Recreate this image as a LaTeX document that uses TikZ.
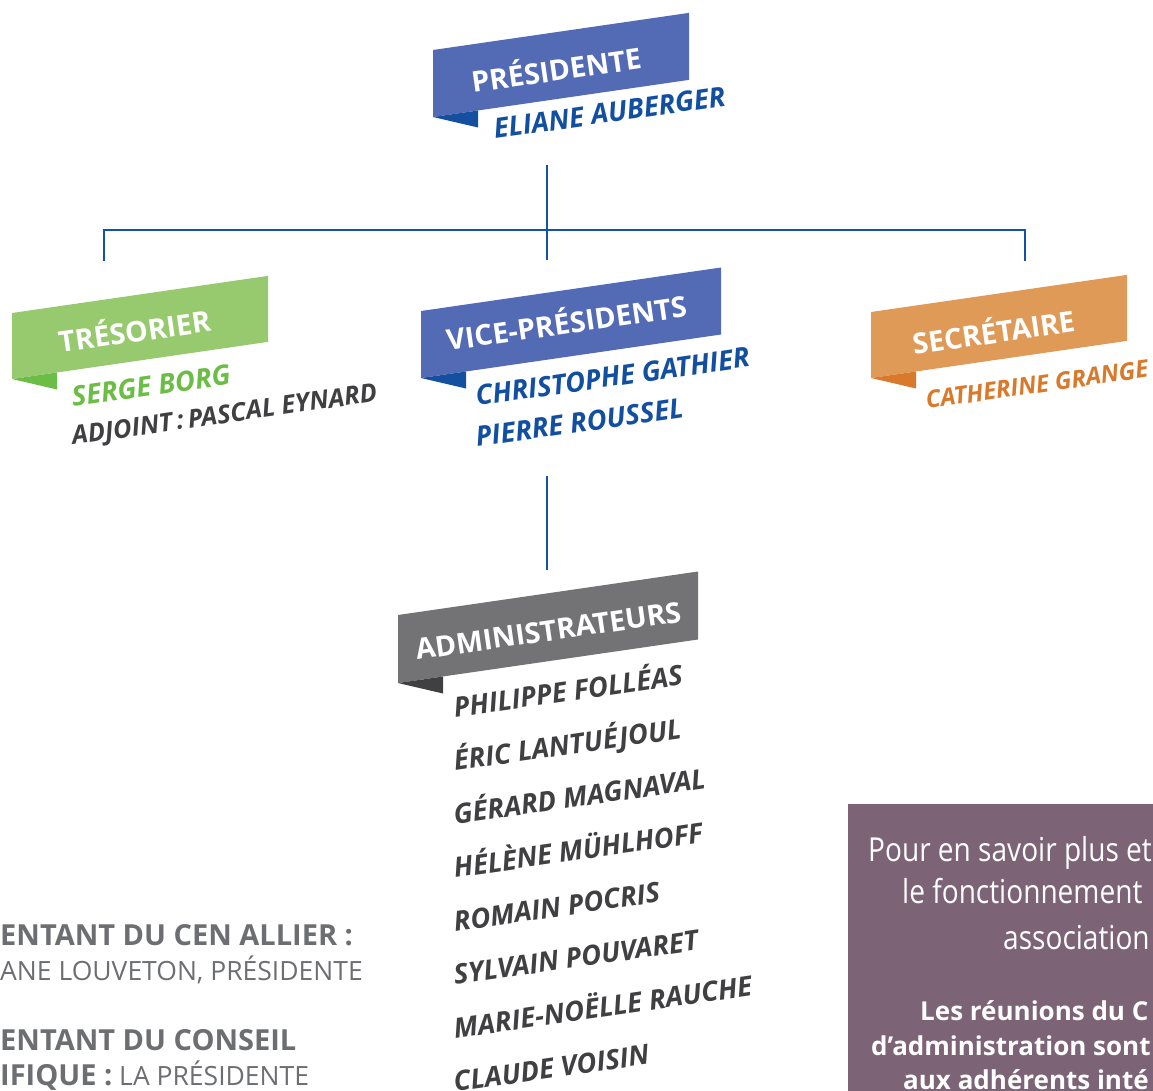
\documentclass[tikz,border=0pt]{standalone}
\usepackage{fontspec}
\setmainfont{Open Sans}
\newfontfamily\handfont[FakeStretch=0.85]{Open Sans}

\definecolor{presblue}{HTML}{536BB5}
\definecolor{presfold}{HTML}{1550A0}
\definecolor{namblue}{HTML}{124FA0}
\definecolor{lineblue}{HTML}{1253A6}
\definecolor{tresgreen}{HTML}{97CA6F}
\definecolor{tresfold}{HTML}{6CBD45}
\definecolor{secorange}{HTML}{E09A58}
\definecolor{secfold}{HTML}{D9792B}
\definecolor{admgray}{HTML}{737375}
\definecolor{admfold}{HTML}{404042}
\definecolor{namgray}{HTML}{404042}
\definecolor{notegray}{HTML}{6D6E71}
\definecolor{infoplum}{HTML}{7C6376}

% band: x, y, width, height, fill, fold
\newcommand{\ribbonband}[6]{%
  \fill[#5] (#1,#2) -- ++(#3,{-0.145*#3}) -- ++(0,#4) -- (#1,#2+#4) -- cycle;
  \fill[#6] (#1,#2+#4) -- ++(45,-6.5) -- ++(0,17) -- cycle;
}

\begin{document}
\begin{tikzpicture}[x=1pt,y=-1pt,
    title/.style={text=white,font=\bfseries\fontsize{28.6}{32}\selectfont,rotate=8.2,anchor=base west,inner sep=0pt},
    person/.style={font=\bfseries\itshape\fontsize{27.5}{30}\selectfont,rotate=8.2,anchor=base west,inner sep=0pt},
    note/.style={text=notegray,font=\fontsize{26.5}{30}\selectfont,anchor=base west,inner sep=0pt},
    notehead/.style={note,font=\bfseries\fontsize{29}{30}\selectfont},
    hand/.style={text=white,font=\handfont\fontsize{33}{38}\selectfont,anchor=base west,inner sep=0pt},
    info/.style={text=white,font=\bfseries\fontsize{26}{30}\selectfont,anchor=base west,inner sep=0pt},
    link/.style={draw=lineblue,line width=2.8pt}]
    \useasboundingbox (0,0) rectangle (1153,1091);
    \clip (0,0) rectangle (1153,1091);

    % ribbons
    \ribbonband{433}{50}{256}{67}{presblue}{presfold}
    \ribbonband{12}{313}{256}{66}{tresgreen}{tresfold}
    \ribbonband{421}{311}{300}{67}{presblue}{presfold}
    \ribbonband{871}{312}{256}{66}{secorange}{secfold}
    \ribbonband{398}{615}{300}{68}{admgray}{admfold}

    \node[title] (pres) at (473,93) {PRÉSIDENTE};
    \node[person,text=namblue] (pres1) at (495,139) {ELIANE AUBERGER};

    \node[title] (tres) at (60,353) {TRÉSORIER};
    \node[person,text=tresfold] (tres1) at (73,407) {SERGE BORG};
    \node[person,text=namgray,font=\bfseries\itshape\fontsize{25.5}{28}\selectfont] (tres2) at (73,445) {ADJOINT\,:\,PASCAL EYNARD};

    \node[title] (vice) at (448,351) {VICE-PRÉSIDENTS};
    \node[person,text=namblue] (vice1) at (477,406) {CHRISTOPHE GATHIER};
    \node[person,text=namblue] (vice2) at (477,447) {PIERRE ROUSSEL};

    \node[title] (secr) at (914,355) {SECRÉTAIRE};
    \node[person,text=secfold,font=\bfseries\itshape\fontsize{24}{28}\selectfont] (secr1) at (927,409) {CATHERINE GRANGE};

    \node[title] (adm) at (417,660) {ADMINISTRATEURS};
    \foreach \who [count=\i] in {PHILIPPE FOLLÉAS,ÉRIC LANTUÉJOUL,GÉRARD MAGNAVAL,
        HÉLÈNE MÜHLHOFF,ROMAIN POCRIS,SYLVAIN POUVARET,MARIE-NOËLLE RAUCHE,CLAUDE VOISIN}
      \node[person,text=namgray] (adm\i) at (455,{664+53.5*\i}) {\who};

    % connectors
    \coordinate (pres-stem) at (547,165);
    \coordinate (hub) at (547,230);
    \coordinate (tres-stem) at (104,261);
    \coordinate (vice-stem) at (547,260);
    \coordinate (secr-stem) at (1025,261);
    \coordinate (vice-foot) at (547,476);
    \coordinate (adm-stem) at (547,570);
    \path[link] (pres-stem) edge (vice-stem);
    \draw[link] (tres-stem) |- (hub) -| (secr-stem);
    \path[link] (vice-foot) edge (adm-stem);

    % notes
    \node[notehead] (cen) at (0,945) {ENTANT DU CEN ALLIER :};
    \node[note] (cen1) at (0,980) {ANE LOUVETON, PRÉSIDENTE};
    \node[notehead] (cs) at (0,1050) {ENTANT DU CONSEIL};
    \node[note] (cs1) at (0,1085) {{\bfseries\fontsize{29}{30}\selectfont IFIQUE :} LA PRÉSIDENTE};

    % info box
    \fill[infoplum] (848,804) rectangle (1160,1100);
    \node[hand] (info1) at (868,861) {Pour en savoir plus et};
    \node[hand] (info2) at (902,903) {le fonctionnement};
    \node[hand] (info3) at (1003,949) {association};
    \node[info] (info4) at (920,1020) {Les réunions du C};
    \node[info] (info5) at (871,1055) {d’administration sont};
    \node[info] (info6) at (903,1089) {aux adhérents inté};
\end{tikzpicture}
\end{document}
